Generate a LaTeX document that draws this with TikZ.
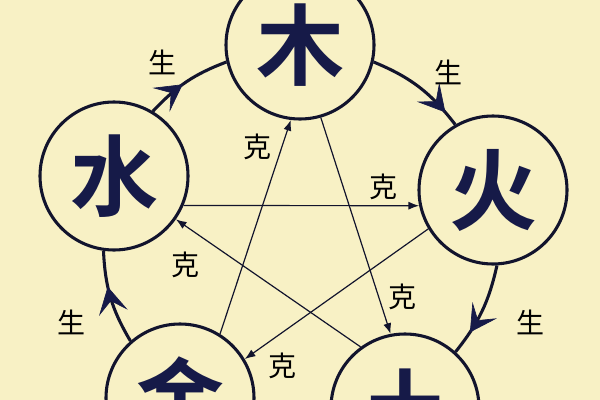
\documentclass[tikz,border=0pt]{standalone}
\usepackage{fontspec}
\usepackage{tikz}
\usetikzlibrary{arrows.meta}
\usetikzlibrary{decorations.markings}
\newfontfamily\cjk{Noto Sans CJK SC}[BoldFont={Noto Sans CJK SC Bold}]
\definecolor{bgcream}{RGB}{248,241,197}
\definecolor{inkblue}{RGB}{22,26,72}
\definecolor{lineblue}{RGB}{18,20,45}
\tikzset{
  element/.style={circle, draw=lineblue, fill=bgcream, line width=2.3pt, minimum size=111pt, inner sep=0pt, text=inkblue, font=\cjk\bfseries\fontsize{66}{66}\selectfont},
  sheng/.style={draw=lineblue, line width=2.3pt, postaction={decorate}, decoration={markings, mark=at position #1 with {\arrow[inkblue, line width=0.5pt]{Stealth[length=20pt,width=22pt,inset=9pt]}}}},
  ke/.style={draw=lineblue, line width=0.9pt, -{Latex[length=8pt,width=6pt]}},
  tag/.style={inner sep=0pt, text=black, font=\cjk\fontsize{21}{21}\selectfont}
}
\begin{document}
\begin{tikzpicture}[x=0.75pt,y=0.75pt,yscale=-1,xscale=1]
\fill[bgcream] (0,0) rectangle (600,400);
\useasboundingbox (0,0) rectangle (600,400);

% Elements
\node [element] (mu) at (300,45) {木};
\node [element] (huo) at (493,190) {火};
\node [element] (tu) at (405,408) {土};
\node [element] (jin) at (180,398) {金};
\node [element] (shui) at (114,176) {水};

% Sheng cycle
\draw [sheng=0.45] (shui.59) to [bend right=13] (mu.193);
\draw [sheng=0.85] (mu.-13) to [bend right=15] (huo.120);
\draw [sheng=0.75] (huo.-87) to [bend right=13] (tu.48);
\draw [sheng=0.62] (jin.131) to [bend right=14] (shui.-98);

% Ke star
\draw [ke] (mu.-74) -- (tu.101);
\draw [ke] (tu.126) -- (shui.-35);
\draw [ke] (shui.-23) -- (huo.-168);
\draw [ke] (huo.211) -- (jin.31);
\draw [ke] (jin.58) -- (mu.-97);

% Text Node
\node [tag] (sheng1) at (162,62) {生};
\node [tag] (sheng2) at (448,72) {生};
\node [tag] (sheng3) at (530,322) {生};
\node [tag] (sheng4) at (71,322) {生};
% Text Node
\node [tag] (ke1) at (402,297) {克};
\node [tag] (ke2) at (185,265) {克};
\node [tag] (ke3) at (383,187) {克};
\node [tag] (ke4) at (282,366) {克};
\node [tag] (ke5) at (257,147) {克};

\end{tikzpicture}
\end{document}
